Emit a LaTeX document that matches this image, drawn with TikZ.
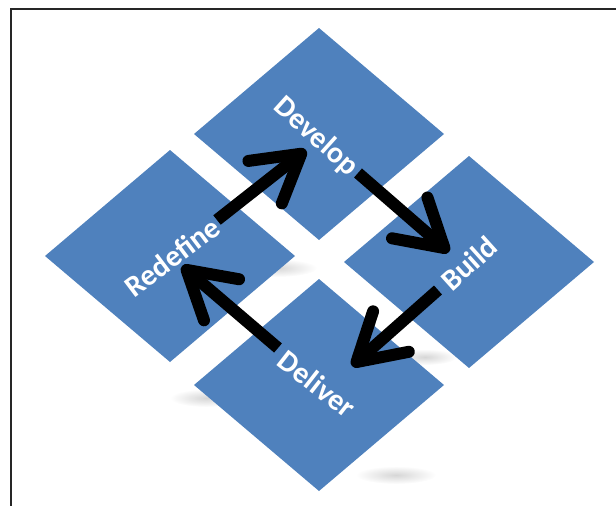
\documentclass[tikz,border=0pt]{standalone}
\usepackage{fontspec}
\setsansfont{Carlito}
\usepackage{tikz}
\usetikzlibrary{arrows.meta}

\definecolor{tileblue}{HTML}{4F81BD}

\begin{document}
\begin{tikzpicture}[x=1pt,y=-1pt,
  tile/.style={fill=tileblue},
  lbl/.style={text=white,font=\sffamily\bfseries\fontsize{30}{30}\selectfont,inner sep=0pt},
  arw/.style={line width=12pt,-{Straight Barb[length=46pt,width=54pt,round]}},
  haze/.style={inner color=black!16,outer color=white}]
  \useasboundingbox (0,0) rectangle (616,506) ;
  \draw[line width=2.5pt,black!85] (616,9) -- (11,9) -- (11,506) ;

  \shade[haze] (277,268) ellipse (40 and 9) ;
  \shade[haze] (206,398) ellipse (36 and 9) ;
  \shade[haze] (425,357) ellipse (32 and 8) ;
  \shade[haze] (396,475) ellipse (40 and 9) ;

  \foreach \x/\y in {319/134,170/256,469/262,319/385}
    \fill[tile] (\x,\y) +(0,-106) -- +(125,0) -- +(0,106) -- +(-125,0) -- cycle ;

  \node[lbl,rotate=-42] (dev) at (316,137) {Develop} ;
  \node[lbl,rotate=37] (red) at (172,257) {Redefine} ;
  \node[lbl,rotate=42] (bui) at (469,263) {Build} ;
  \node[lbl,rotate=-38] (del) at (317,384) {Deliver} ;

  \coordinate (red-out) at (217,220) ; \coordinate (dev-in) at (306,150) ;
  \coordinate (dev-out) at (358,173) ; \coordinate (bui-in) at (449,252) ;
  \coordinate (bui-out) at (438,290) ; \coordinate (del-in) at (352,366) ;
  \coordinate (del-out) at (278,348) ; \coordinate (red-in) at (182,266) ;

  \draw[arw] (red-out) -- (dev-in) ;
  \draw[arw] (dev-out) -- (bui-in) ;
  \draw[arw] (bui-out) -- (del-in) ;
  \draw[arw] (del-out) -- (red-in) ;

\end{tikzpicture}
\end{document}
